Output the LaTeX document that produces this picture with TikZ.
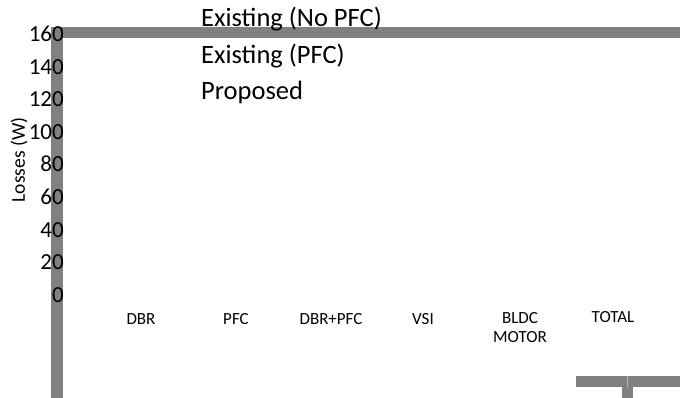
\documentclass[tikz,border=0pt]{standalone}
\usepackage{fontspec}
\setmainfont{Carlito}
\definecolor{bargray}{HTML}{808080}
\begin{document}
\begin{tikzpicture}[x=1pt,y=-1pt,
  bar/.style={fill=bargray,draw=none},
  tick/.style={anchor=base east,font=\fontsize{23}{23}\selectfont,inner sep=0pt},
  legend/.style={anchor=base west,font=\fontsize{26.5}{26.5}\selectfont,inner sep=0pt},
  cat/.style={anchor=base,font=\fontsize{17}{18.5}\selectfont,inner sep=0pt,align=center}]
\useasboundingbox (0,0) rectangle (680,398);
% axes-like bars
\fill[bar] (51,27) rectangle (63,398);
\fill[bar] (51,27) rectangle (680,38);
\fill[bar] (576,376) rectangle (680,387);
\fill[bar] (622,387) rectangle (633,398);
\draw[gray!55,line width=0.6pt] (627,376) -- (627,387);
% tick labels
\node[tick] (t160) at (64,42) {160};
\node[tick] (t140) at (64,74.5) {140};
\node[tick] (t120) at (64,107) {120};
\node[tick] (t100) at (64,139.5) {100};
\node[tick] (t80) at (64,172) {80};
\node[tick] (t60) at (64,204.5) {60};
\node[tick] (t40) at (64,237) {40};
\node[tick] (t20) at (64,269.5) {20};
\node[tick] (t0) at (64,302) {0};
% y label
\node[rotate=90,font=\fontsize{19.5}{19.5}\selectfont,inner sep=0pt] (ylab) at (19,160) {Losses (W)};
% legend
\node[legend] (l1) at (201,27) {Existing (No PFC)};
\node[legend] (l2) at (201,64) {Existing (PFC)};
\node[legend] (l3) at (201,100) {Proposed};
% categories
\node[cat] (c1) at (141,324) {DBR};
\node[cat] (c2) at (236,324) {PFC};
\node[cat] (c3) at (331,324) {DBR+PFC};
\node[cat] (c4) at (423,324) {VSI};
\node[cat] (c5) at (520,342) {BLDC\\MOTOR};
\node[cat] (c6) at (613,322) {TOTAL};
\end{tikzpicture}
\end{document}
